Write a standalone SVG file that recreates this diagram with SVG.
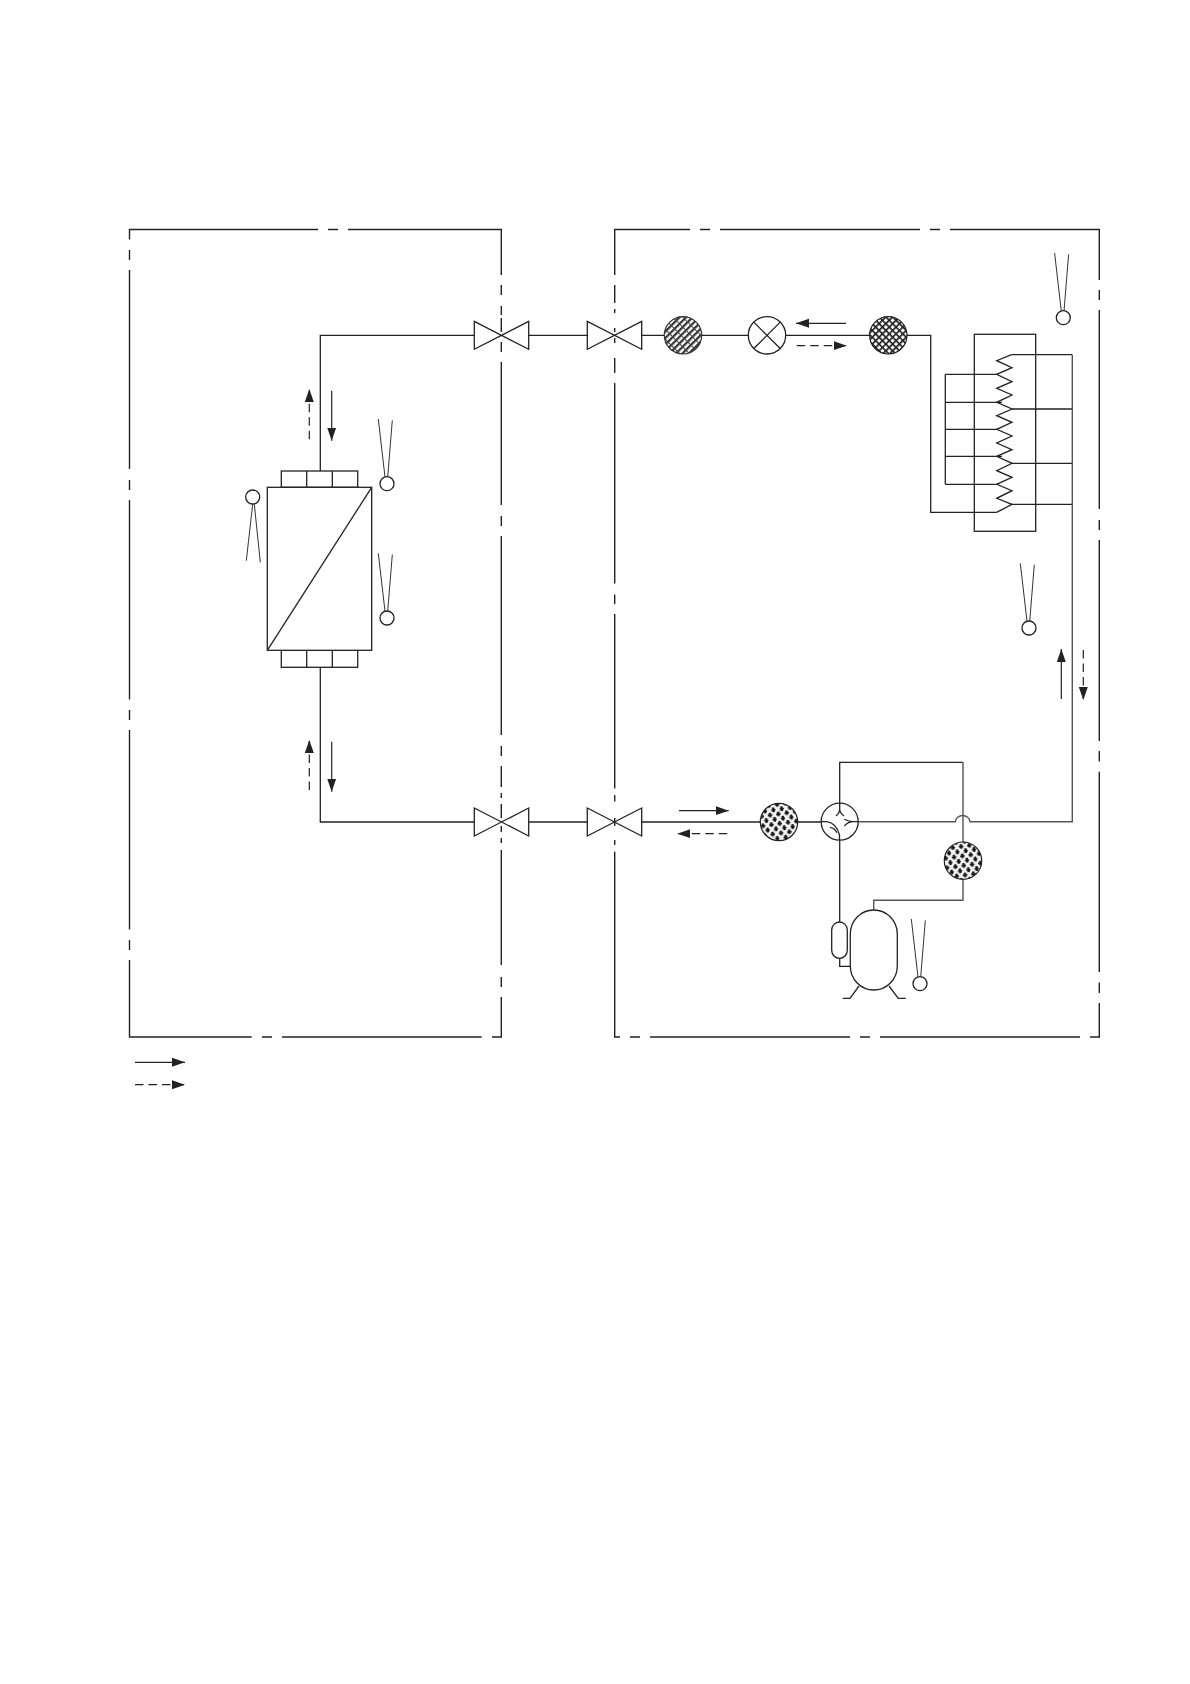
<svg xmlns="http://www.w3.org/2000/svg" width="1190" height="1684" viewBox="0 0 1190 1684">
<style>
.l{fill:none;stroke:#222;stroke-width:1.3}
.g{fill:none;stroke:#555;stroke-width:1.4}
.t{fill:none;stroke:#333;stroke-width:1}
.n{fill:#fff;stroke:#222;stroke-width:1.3}
.b{fill:none;stroke:#222;stroke-width:1.4}
.f{fill:none;stroke:#222;stroke-width:1.2;marker-end:url(#head)}
.d{stroke-dasharray:8.5 5}
</style>
<defs>
<marker id="head" markerUnits="userSpaceOnUse" markerWidth="14" markerHeight="10" refX="13" refY="5" orient="auto"><path d="M0,0.5 L13,5 L0,9.5 Z" fill="#222"/></marker>
<pattern id="p1" width="4.6" height="7" patternUnits="userSpaceOnUse" patternTransform="rotate(45)">
<rect width="4.6" height="7" fill="#fff"/><rect width="2.2" height="7" fill="#333"/><rect width="4.6" height="1" fill="#444"/></pattern>
<pattern id="p2" width="4.8" height="4.8" patternUnits="userSpaceOnUse" patternTransform="rotate(45)">
<rect width="4.8" height="4.8" fill="#fff"/><rect width="4.8" height="1.7" fill="#222"/><rect width="1.7" height="4.8" fill="#222"/></pattern>
<pattern id="p3" width="8.4" height="9.6" patternUnits="userSpaceOnUse" patternTransform="rotate(-8)">
<rect width="8.4" height="9.6" fill="#f2f2f2"/>
<path d="M1.2,0 h2.2 v4.6 h-2.2 z M0,1.6 h4.6 v1.8 h-4.6 z M4.2,6.4 h4.2 v1.8 h-4.2 z M5.2,4.8 h2.2 v4.8 h-2.2 z" fill="#111"/></pattern>
<g id="sensor"><circle r="7" class="n" stroke-width="1.1"/><path class="t" d="M-8.7,-64.7 L-2,-6.6 M5.3,-63.4 L0.7,-6.6"/></g>
</defs>
<g id="connectors">
<path class="l" d="M474.3,335.3 H320.3 V471"/>
<path class="l" d="M320.3,667.3 V822 H474.3"/>
<path class="l" d="M528.7,335.3 H587.3"/>
<path class="l" d="M528.7,822 H587.3"/>
<path class="l" d="M641.7,335.3 H664.3 M701.7,335.3 H748.3 M785.7,335.3 H869.6"/>
<path class="l" d="M907,335.3 H930.7 V512.3 H996.7"/>
<path class="l" d="M641.7,822 H760.3 M797.7,822 H821.2"/>
<path class="l" d="M945.3,374.3 V484.3 M945.3,374.3 H996.7 M945.3,402.3 H1002 M945.3,429.3 H996.7 M945.3,456.3 H1002 M945.3,484.3 H996.7"/>
<path class="l" d="M1011.5,354.7 H1072.3 M1012,409 H1072.3 M1012,463.3 H1072.3 M1012,504.3 H1072.3"/>
<path class="g" d="M1072.3,354.7 V821.7 H970 A7.4,7 0 0 0 955.3,821.7 H858.2"/>
<path class="l" d="M839.7,803.2 V762.3 H963"/>
<path class="g" d="M963,762.3 V842"/>
<path class="g" d="M963,879.4 V900.3 H873.7 V910"/>
<path class="l" d="M839.7,840.2 V922 M839.7,958.3 V966.3 H850.3"/>
</g>
<g id="boundary-indoor">
<path class="b" d="M129.5,239.5 V229.5 H318 M328,229.5 H338 M348,229.5 H501.3 V275 M501.3,285 V295 M501.3,306 V315 M501.3,318 V332 M501.3,342 V352 M501.3,362 V505 M501.3,516 V526 M501.3,536 V735 M501.3,746 V756 M501.3,766 V787 M501.3,793 V798 M501.3,804 V818 M501.3,826 V832 M501.3,838 V843 M501.3,850 V965 M501.3,977 V987 M501.3,997 V1037 H492 M481.7,1037 H282 M272,1037 H262 M251.7,1037 H129.5 V960 M129.5,950 V940 M129.5,929.5 V730 M129.5,720 V710 M129.5,699.5 V500 M129.5,490 V480 M129.5,469 V270 M129.5,260 V250"/>
</g>
<g id="boundary-outdoor">
<path class="b" d="M614.7,275 V229.5 H690 M700,229.5 H710 M720,229.5 H920 M930,229.5 H940 M950,229.5 H1099.3 V280 M1099.3,290 V300 M1099.3,310 V509 M1099.3,520 V530 M1099.3,540 V741 M1099.3,751 V761.5 M1099.3,771.7 V972 M1099.3,982.6 V993 M1099.3,1003 V1037 H1090 M1080,1037 H880 M870,1037 H860 M850,1037 H650 M640,1037 H630 M620,1037 H614.7 V851.7 M614.7,845 V840 M614.7,826 V818 M614.7,801.6 V795 M614.7,788.5 V614 M614.7,604 V594.5 M614.7,583.6 V383 M614.7,373 V358 M614.7,343 V338 M614.7,332 V328 M614.7,313 V309 M614.7,303 V285"/>
</g>
<g id="heat-exchanger">
<rect class="n" x="281.3" y="471" width="76.4" height="16.3"/>
<rect class="n" x="281.3" y="650.3" width="76.4" height="17"/>
<path class="l" d="M306.7,471 V487.3 M332.3,471 V487.3 M306.7,650.3 V667.3 M332.3,650.3 V667.3"/>
<rect class="n" x="267.3" y="487.3" width="104.4" height="163"/>
<path class="l" d="M371.7,487.3 L267.3,650.3"/>
</g>
<g id="valve-1"><path class="l" d="M474.3,321.3 L528.7,349.3 V321.3 L474.3,349.3 Z"/></g>
<g id="valve-2"><path class="l" d="M587.3,321.3 L641.7,349.3 V321.3 L587.3,349.3 Z"/></g>
<g id="valve-3"><path class="l" d="M474.3,808 L528.7,836 V808 L474.3,836 Z"/></g>
<g id="valve-4"><path class="l" d="M587.3,808 L641.7,836 V808 L587.3,836 Z"/></g>
<g id="filter-1"><circle cx="683" cy="335.3" r="18.7" fill="url(#p1)" stroke="#333" stroke-width="1.2"/></g>
<g id="expansion-valve"><circle cx="767" cy="335.3" r="18.7" class="n"/><path class="l" d="M753.8,322.1 L780.2,348.5 M780.2,322.1 L753.8,348.5"/></g>
<g id="filter-2"><circle cx="888.3" cy="335.3" r="18.7" fill="url(#p2)" stroke="#222" stroke-width="1.2"/></g>
<g id="filter-3"><circle cx="779" cy="822" r="18.7" fill="url(#p3)" stroke="#222" stroke-width="1.2"/></g>
<g id="filter-4"><circle cx="963" cy="860.7" r="18.7" fill="url(#p3)" stroke="#222" stroke-width="1.2"/></g>
<g id="condenser">
<rect class="l" x="974.3" y="334.3" width="61.4" height="197"/>
<path class="l" d="M1011.5,354.7 L996.7,360.7 L1012,367.7 L996.7,374.3 L1012,381.7 L996.7,388.3 L1012,395 L996.7,402.3 L1012,409 L996.7,415.7 L1012,422.3 L996.7,429.3 L1012,436 L996.7,443 L1012,449.7 L996.7,456.3 L1012,463.3 L996.7,470.7 L1012,477.3 L996.7,484.3 L1012,490.7 L996.7,498.3 L1012,504.3 L996.7,512.3"/>
</g>
<g id="four-way-valve">
<circle cx="839.7" cy="821.7" r="18.5" class="n"/>
<path class="l" d="M839.7,803.2 V809 M836,816 Q839.7,813 839.7,809 Q839.7,813 844,816 M858.2,821.7 H853.3 M844.3,819.3 Q848.5,821.7 853.3,821.7 Q848.5,821.7 844.3,826 M821.2,821.7 H826.7 Q836.7,823.3 839.5,835 V840.2 M830,827.3 Q835,828 836.7,832.7"/>
</g>
<g id="compressor">
<rect class="n" x="850.3" y="910" width="47" height="80" rx="23.5" ry="24"/>
<path class="l" d="M859,986 L850,998.3 H842.7 M889,986 L898.3,998.3 H905.7"/>
<rect class="n" x="831.7" y="922" width="15.6" height="36.3" rx="7.8" ry="8"/>
</g>
<g id="sensor-1"><use href="#sensor" x="387" y="483.7"/></g>
<g id="sensor-2"><use href="#sensor" x="387" y="618"/></g>
<g id="sensor-3"><circle cx="252.7" cy="497" r="7" class="n"/><path class="t" d="M252.7,504 L246.3,560.7 M254.3,504 L260.3,562.3"/></g>
<g id="sensor-4"><use href="#sensor" x="1063.3" y="317.7"/></g>
<g id="sensor-5"><use href="#sensor" x="1029" y="628"/></g>
<g id="sensor-6"><use href="#sensor" x="920" y="983.7"/></g>
<g id="flow-arrows">
<path class="f d" d="M309.3,439.3 V389"/>
<path class="f" d="M331.7,390.7 V440.7"/>
<path class="f d" d="M309.3,790 V740"/>
<path class="f" d="M331.7,741.7 V791.7"/>
<path class="f" d="M846,323.3 H796"/>
<path class="f d" d="M796.7,345.7 H846.7"/>
<path class="f" d="M679,810.7 H728.7"/>
<path class="f d" d="M727.3,833.7 H677.3"/>
<path class="f" d="M1061.3,699 V649"/>
<path class="f d" d="M1083.3,650 V700"/>
<path class="f" d="M135,1062.3 H185"/>
<path class="f d" d="M135,1084.7 H185"/>
</g>
</svg>
